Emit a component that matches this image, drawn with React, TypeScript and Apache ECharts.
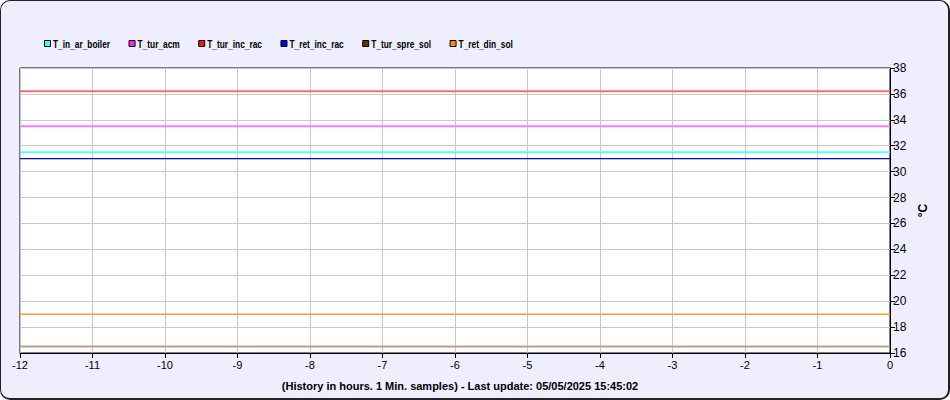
import React, { useEffect, useRef } from "react";
import * as echarts from "echarts";

const hours = [-12, -11, -10, -9, -8, -7, -6, -5, -4, -3, -2, -1, 0];
const seriesNames = ["T_in_ar_boiler", "T_tur_acm", "T_tur_inc_rac", "T_ret_inc_rac", "T_tur_spre_sol", "T_ret_din_sol"];
const legendColors = ["#33ffff", "#ff22ff", "#ff1111", "#0000ff", "#663300", "#ff8811"];
const lineColors = ["#55ffff", "#ff77ff", "#f07070", "#0a0ac8", "#c0a080", "#ff9933"];
const lineWidths = [2, 2, 2, 1.2, 2, 1.5];
const T_in_ar_boiler = [31.5, 31.5, 31.5, 31.5, 31.5, 31.5, 31.5, 31.5, 31.5, 31.5, 31.5, 31.5, 31.5];
const T_tur_acm = [33.5, 33.5, 33.5, 33.5, 33.5, 33.5, 33.5, 33.5, 33.5, 33.5, 33.5, 33.5, 33.5];
const T_tur_inc_rac = [36.2, 36.2, 36.2, 36.2, 36.2, 36.2, 36.2, 36.2, 36.2, 36.2, 36.2, 36.2, 36.2];
const T_ret_inc_rac = [31.0, 31.0, 31.0, 31.0, 31.0, 31.0, 31.0, 31.0, 31.0, 31.0, 31.0, 31.0, 31.0];
const T_tur_spre_sol = [16.5, 16.5, 16.5, 16.5, 16.5, 16.5, 16.5, 16.5, 16.5, 16.5, 16.5, 16.5, 16.5];
const T_ret_din_sol = [19.0, 19.0, 19.0, 19.0, 19.0, 19.0, 19.0, 19.0, 19.0, 19.0, 19.0, 19.0, 19.0];
const seriesValues = [T_in_ar_boiler, T_tur_acm, T_tur_inc_rac, T_ret_inc_rac, T_tur_spre_sol, T_ret_din_sol];
const footer = "(History in hours. 1 Min. samples) - Last update: 05/05/2025 15:45:02";
const yName = "°C";

const FONT = "'Liberation Sans', Arial, sans-serif";
const LEGEND_FONT = "bold 11px 'Liberation Sans', Arial, sans-serif";
const LEGEND_SCALE = 0.76;

function buildLegend() {
  const canvas = document.createElement("canvas");
  const ctx = canvas.getContext("2d");
  if (ctx) ctx.font = LEGEND_FONT;
  const els: any[] = [];
  let x = 44;
  const cy = 44;
  seriesNames.forEach((name, i) => {
    els.push({
      type: "rect",
      shape: { x: x + 0.5, y: cy - 3.5, width: 6, height: 6 },
      style: { fill: legendColors[i], stroke: "#000", lineWidth: 1 },
    });
    const tx = x + 9;
    const w = (ctx ? ctx.measureText(name).width : name.length * 6) * LEGEND_SCALE;
    els.push({
      type: "text",
      x: tx,
      y: cy,
      scaleX: LEGEND_SCALE,
      style: {
        text: name,
        fontSize: 11,
        fontWeight: "bold",
        fontFamily: FONT,
        fill: "#000",
        align: "left",
        verticalAlign: "middle",
      },
    });
    x = tx + w + 18.4;
  });
  return els;
}

export default function App() {
  const ref = useRef<HTMLDivElement>(null);
  useEffect(() => {
    if (!ref.current) return;
    const chart = echarts.init(ref.current, undefined, { renderer: "svg" });
    chart.setOption({
      animation: false,
      textStyle: { fontFamily: FONT },
      title: {
        text: footer,
        left: 455,
        textAlign: "center",
        top: 375,
        textStyle: { fontSize: 11, fontWeight: "bold", color: "#000", fontFamily: FONT },
      },
      legend: { show: false, data: seriesNames },
      graphic: buildLegend(),
      grid: {
        left: 20,
        right: 60,
        top: 68,
        bottom: 47,
        show: true,
        backgroundColor: "#fff",
        borderColor: "#000",
        borderWidth: 1,
      },
      xAxis: {
        type: "value",
        min: -12,
        max: 0,
        interval: 1,
        axisLine: { show: true, lineStyle: { color: "#000" } },
        axisTick: { show: true, length: 5, lineStyle: { color: "#000" } },
        axisLabel: { fontSize: 11, color: "#000", margin: 6, fontFamily: FONT },
        splitLine: { show: true, lineStyle: { color: "#c8c8c8" } },
      },
      yAxis: {
        type: "value",
        position: "right",
        min: 16,
        max: 38,
        interval: 2,
        name: yName,
        nameLocation: "middle",
        nameRotate: 90,
        nameGap: 26,
        nameTextStyle: { fontSize: 12, fontWeight: "bold", color: "#000", fontFamily: FONT },
        axisLine: { show: true, lineStyle: { color: "#000" } },
        axisTick: { show: true, length: 5, lineStyle: { color: "#000" } },
        axisLabel: { fontSize: 12, color: "#000", margin: 3, fontFamily: FONT },
        splitLine: { show: true, lineStyle: { color: "#c8c8c8" } },
      },
      series: seriesNames.map((name, i) => ({
        name,
        type: "line",
        showSymbol: false,
        symbol: "none",
        itemStyle: { color: legendColors[i] },
        lineStyle: { color: lineColors[i], width: lineWidths[i] },
        data: hours.map((h, j) => [h, seriesValues[i][j]]),
      })),
    });
    return () => chart.dispose();
  }, []);
  return (
    <div
      style={{
        position: "fixed",
        left: 0,
        top: 0,
        width: 950,
        height: 400,
        boxSizing: "border-box",
        background: "#eeeeff",
        border: "1px solid #222",
        borderRightWidth: 2,
        borderBottomWidth: 2,
        borderRadius: 10,
        overflow: "hidden",
      }}
    >
      <div ref={ref} style={{ position: "absolute", left: -1, top: -1, width: 950, height: 400 }} />
    </div>
  );
}
